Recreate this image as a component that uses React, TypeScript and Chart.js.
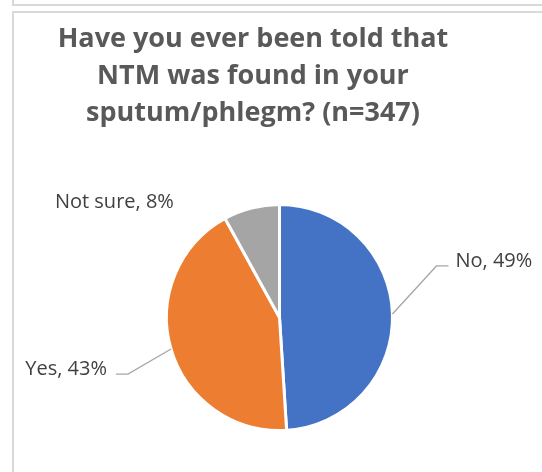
import React, { useEffect, useRef } from "react";
import { Chart, registerables } from "chart.js";

Chart.register(...registerables);

// Survey answers, clockwise from 12 o'clock
const categories = ["No", "Yes", "Not sure"];
const shares = [49, 43, 8];
const sliceColors = ["#4472C4", "#ED7D31", "#A5A5A5"];
const titleLines = [
  "Have you ever been told that",
  "NTM was found in your",
  "sputum/phlegm? (n=347)",
];

// Callout placement per slice: elbow offset from the rim point, tail length,
// and (for slices without a leader) a direct text offset.
const callouts = [
  { leader: true, elbow: [44, -48], tail: 12 },
  { leader: true, elbow: [-43, 25], tail: -12 },
  { leader: false, text: [-137, -6] },
];

const FONT = "'Open Sans', sans-serif";

const calloutPlugin = {
  id: "callouts",
  afterDatasetsDraw(chart: any) {
    const ctx = chart.ctx as CanvasRenderingContext2D;
    const meta = chart.getDatasetMeta(0);
    ctx.save();
    ctx.font = `20px ${FONT}`;
    ctx.fillStyle = "#404040";
    ctx.textBaseline = "middle";
    meta.data.forEach((arc: any, i: number) => {
      const { x, y, startAngle, endAngle, outerRadius } = arc.getProps(
        ["x", "y", "startAngle", "endAngle", "outerRadius"],
        true
      );
      const mid = (startAngle + endAngle) / 2;
      const rx = x + Math.cos(mid) * outerRadius;
      const ry = y + Math.sin(mid) * outerRadius;
      const label = `${categories[i]}, ${shares[i]}%`;
      const c: any = callouts[i];
      if (c.leader) {
        const ex = rx + c.elbow[0];
        const ey = ry + c.elbow[1];
        const tx = ex + c.tail;
        ctx.strokeStyle = "#A6A6A6";
        ctx.lineWidth = 1.3;
        ctx.beginPath();
        ctx.moveTo(rx, ry);
        ctx.lineTo(ex, ey);
        ctx.lineTo(tx, ey);
        ctx.stroke();
        const right = c.tail > 0;
        ctx.textAlign = right ? "left" : "right";
        ctx.fillText(label, tx + (right ? 7 : -9), ey - 5);
      } else {
        ctx.textAlign = "center";
        ctx.fillText(label, rx + c.text[0], ry + c.text[1]);
      }
    });
    ctx.restore();
  },
};

const titlePlugin = {
  id: "surveyTitle",
  afterDraw(chart: any) {
    const ctx = chart.ctx as CanvasRenderingContext2D;
    ctx.save();
    ctx.font = `bold 27px ${FONT}`;
    ctx.fillStyle = "#595959";
    ctx.textAlign = "center";
    ctx.textBaseline = "alphabetic";
    titleLines.forEach((line, i) => {
      ctx.fillText(line, 253, 47 + i * 37);
    });
    ctx.restore();
  },
};

export default function App() {
  const canvasRef = useRef<HTMLCanvasElement | null>(null);

  useEffect(() => {
    if (!canvasRef.current) return;
    const chart = new Chart(canvasRef.current, {
      type: "pie",
      data: {
        labels: categories,
        datasets: [
          {
            data: shares,
            backgroundColor: sliceColors,
            borderColor: "#ffffff",
            borderWidth: 3,
            radius: 113,
          } as any,
        ],
      },
      options: {
        responsive: false,
        animation: false,
        devicePixelRatio: 1,
        layout: { padding: { left: 167, right: 150, top: 205, bottom: 42 } },
        plugins: {
          legend: { display: false },
          title: { display: false },
          tooltip: { enabled: false },
        },
      },
      plugins: [calloutPlugin, titlePlugin],
    });
    return () => chart.destroy();
  }, []);

  return (
    <div
      style={{
        position: "fixed",
        left: 0,
        top: 0,
        width: 542,
        height: 472,
        background: "#ffffff",
        overflow: "hidden",
      }}
    >
      <div
        style={{
          position: "absolute",
          left: 12,
          top: -12,
          width: 600,
          height: 14,
          border: "2px solid #D9D9D9",
        }}
      />
      <div
        style={{
          position: "absolute",
          left: 12,
          top: 11,
          width: 600,
          height: 600,
          border: "2px solid #D9D9D9",
        }}
      />
      <canvas
        ref={canvasRef}
        width={542}
        height={472}
        style={{ position: "absolute", left: 0, top: 0 }}
      />
    </div>
  );
}
